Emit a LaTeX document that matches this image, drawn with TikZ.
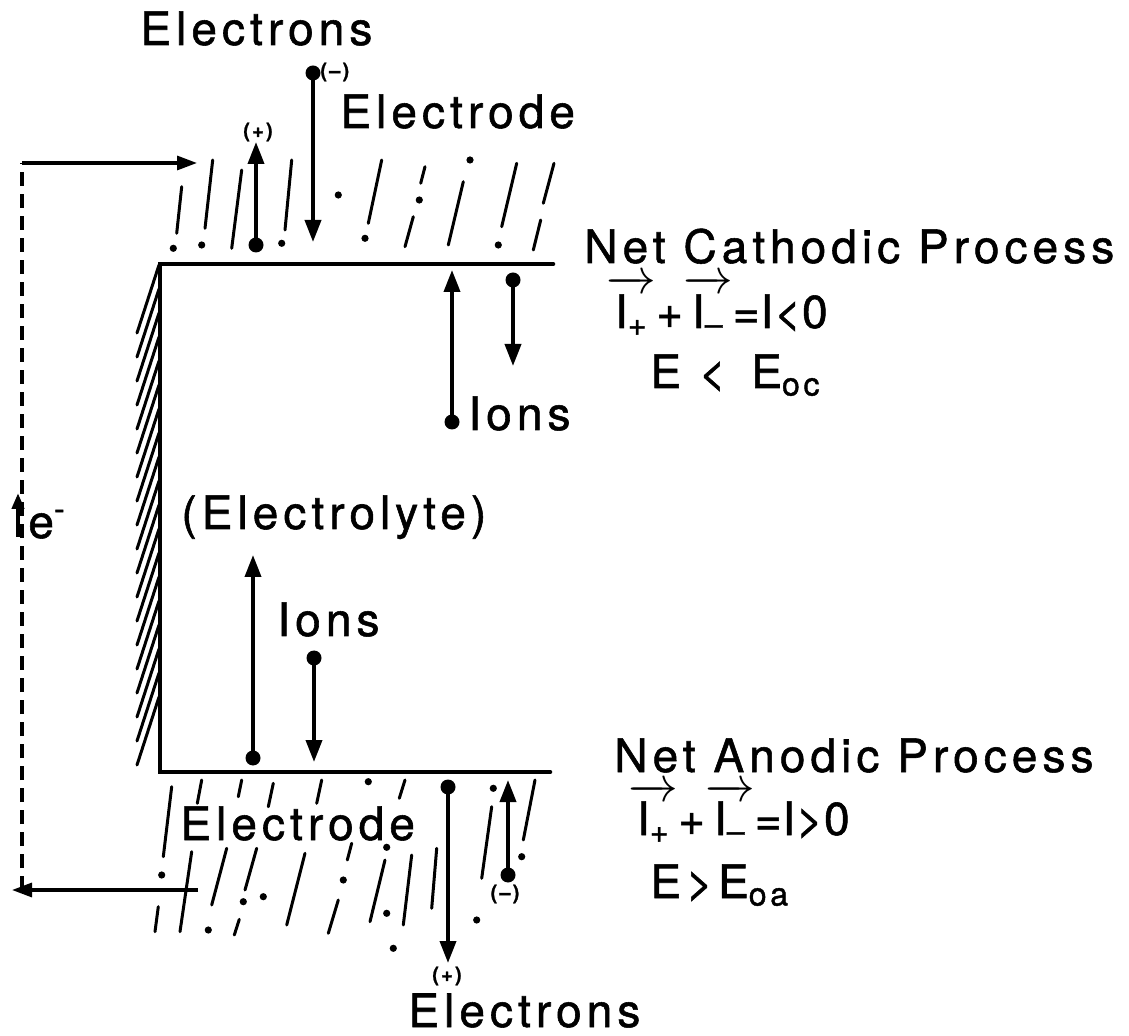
\documentclass[tikz,border=0pt]{standalone}
\usepackage{amsmath}
\usepackage{fontspec}
\setmainfont{TeX Gyre Heros}[LetterSpace=11, FakeBold=1.2]
\usepackage{tikz}
\usetikzlibrary{arrows.meta}
\tikzset{
  txt/.style={font=\fontsize{23}{25}\selectfont, inner sep=0pt, anchor=base west},
  eqn/.style={txt, font=\fontsize{23}{25}\selectfont\addfontfeature{LetterSpace=2}},
  sgn/.style={font=\bfseries\fontsize{10}{11}\selectfont, inner sep=0pt},
  ptdot/.style={circle, fill=black, inner sep=0pt, minimum size=7.5pt},
  flow/.style={-{Triangle[length=11pt,width=8pt]}, line width=1.9pt},
  circuit/.style={-{Triangle[length=10pt,width=7pt]}, line width=1.6pt},
  wall/.style={line width=2.3pt, line cap=round},
  hatch/.style={line width=1.5pt, line cap=round},
}
\newcommand{\vecI}[1]{\ensuremath{\overrightarrow{\kern1pt\rule{0pt}{17pt}\text{I\textsubscript{#1}}\kern1pt}}}

\begin{document}
\begin{tikzpicture}[x=0.5pt, y=-0.5pt]
  \useasboundingbox (0,0) rectangle (1129,1036);

  % electrolyte boundary
  \coordinate (ctopR) at (553,264);
  \coordinate (ctop)  at (160,264);
  \coordinate (cbot)  at (160,772);
  \coordinate (cbotR) at (550,772);
  \draw[wall] (ctopR) -- (ctop) -- (cbot) -- (cbotR);
  \foreach \y in {265,289,...,705}
    \draw[hatch] (159,\y) -- (137,\y+68);

  % upper electrode
  \foreach \a/\b/\c/\d in {181.7/186.7/176.7/233.3, 212.7/160/205/228.3, 241.7/170/231.7/248.3,
      291.7/160/285/230, 381.7/160/368.3/223.3, 425/166.7/420.7/183.3, 413.3/216.7/405/246.7,
      463.3/181.7/448.3/245, 516.7/163.3/501.7/226.7, 554/163.3/543.3/203.3, 540.7/220/533.3/250}
    \draw[hatch] (\a,\b) -- (\c,\d);
  \foreach \a/\b in {173.3/248.3, 201.7/245, 281.7/243.3, 338.3/195, 365/238.3, 419.3/200,
      470/160, 498.3/245}
    \fill (\a,\b) circle (1.8pt);

  % lower electrode
  \foreach \a/\b/\c/\d in {171.7/786.7/163.3/856.7, 201.7/780/197.3/803.3, 241.7/780/238.3/796.7,
      273.3/783.3/268.3/806.7, 321.7/780/316.7/803.3, 405/780/399.3/798.3, 535/780/523.3/840,
      491.7/806.7/481.7/878.3, 191.7/851.7/180/931.7, 226.7/848.3/211.7/905, 256.7/848.3/245/890,
      239.3/919.3/234.3/935, 158.3/906.7/155/931.7, 305/853.3/286.7/925, 351.7/843.3/347.3/860,
      338.3/900/328.3/933.3, 385/860/370/921.7, 411.7/855/403.3/925, 436.7/848.3/431.7/908.3}
    \draw[hatch] (\a,\b) -- (\c,\d);
  \foreach \a/\b in {368.3/781.7, 493.3/788.3, 521.7/856.7, 263.3/896.7, 243.3/901.7, 208.3/930,
      343.3/880, 386.7/847.3, 386.7/913.3, 161.7/875, 476.7/920, 393.3/948.3}
    \fill (\a,\b) circle (1.8pt);

  % external circuit
  \coordinate (exTL) at (22,163);
  \coordinate (exTR) at (197,163);
  \coordinate (exBL) at (22,890);
  \coordinate (exBR) at (198,890);
  \coordinate (exBtip) at (12,890);
  \draw[circuit] (exTL) -- (exTR);
  \draw[line width=2.3pt, dash pattern=on 7pt off 4pt] (exBL) -- (exTL);
  \draw[circuit] (exBR) -- (exBtip);
  \coordinate (eupS) at (18,537);
  \coordinate (eupT) at (18,493);
  \draw[-{Triangle[length=8pt,width=6pt]}, line width=2pt] (eupS) -- (eupT);
  \node[txt] (elab) at (28,538) {e\textsuperscript{-}};

  % upper electrode charges
  \node[ptdot] (eTop) at (313,73) {};
  \coordinate (eTopEnd) at (313,242);
  \draw[flow] (eTop.center) -- (eTopEnd);
  \node[ptdot] (pTop) at (256,245) {};
  \coordinate (pTopEnd) at (256,142);
  \draw[flow] (pTop.center) -- (pTopEnd);
  \node[txt] (electronsT) at (140,45) {Electrons};
  \node[sgn, anchor=west] (minusT) at (320,72) {(--)};
  \node[sgn] (plusT) at (258,132) {(+)};
  \node[txt] (electrodeT) at (340,128) {Electrode};

  % ions at cathode
  \node[ptdot] (ionUp) at (452,422) {};
  \coordinate (ionUpEnd) at (452,270);
  \draw[flow] (ionUp.center) -- (ionUpEnd);
  \node[ptdot] (ionDn) at (513,280) {};
  \coordinate (ionDnEnd) at (513,366);
  \draw[flow] (ionDn.center) -- (ionDnEnd);
  \node[txt] (ionsT) at (468,430) {Ions};

  \node[txt] (cath) at (584,263) {Net Cathodic Process};
  \node[eqn] (cathEq) at (606,328) {\vecI{+}+\vecI{--}=I<0};
  \node[txt] (cathE) at (650,388) {E <\, E\textsubscript{oc}};

  \node[txt] (electrolyte) at (181,529) {(Electrolyte)};

  % ions at anode
  \node[ptdot] (ionUpB) at (253,758) {};
  \coordinate (ionUpBEnd) at (253,555);
  \draw[flow] (ionUpB.center) -- (ionUpBEnd);
  \node[ptdot] (ionDnB) at (314,658) {};
  \coordinate (ionDnBEnd) at (314,762);
  \draw[flow] (ionDnB.center) -- (ionDnBEnd);
  \node[txt] (ionsB) at (277,636) {Ions};

  % lower electrode charges
  \node[ptdot] (eBot) at (448,787) {};
  \coordinate (eBotEnd) at (448,963);
  \draw[flow] (eBot.center) -- (eBotEnd);
  \node[ptdot] (mBot) at (508,875) {};
  \coordinate (mBotEnd) at (508,780);
  \draw[flow] (mBot.center) -- (mBotEnd);
  \node[txt] (electrodeB) at (180,840) {Electrode};
  \node[sgn] (plusB) at (447,976) {(+)};
  \node[sgn] (minusB) at (505,894) {(--)};
  \node[txt] (electronsB) at (408,1027) {Electrons};

  \node[txt] (anod) at (614,772) {Net Anodic Process};
  \node[eqn] (anodEq) at (628,835) {\vecI{+}+\vecI{--}=I>0};
  \node[txt] (anodE) at (650,898) {E>E\textsubscript{oa}};
\end{tikzpicture}
\end{document}
